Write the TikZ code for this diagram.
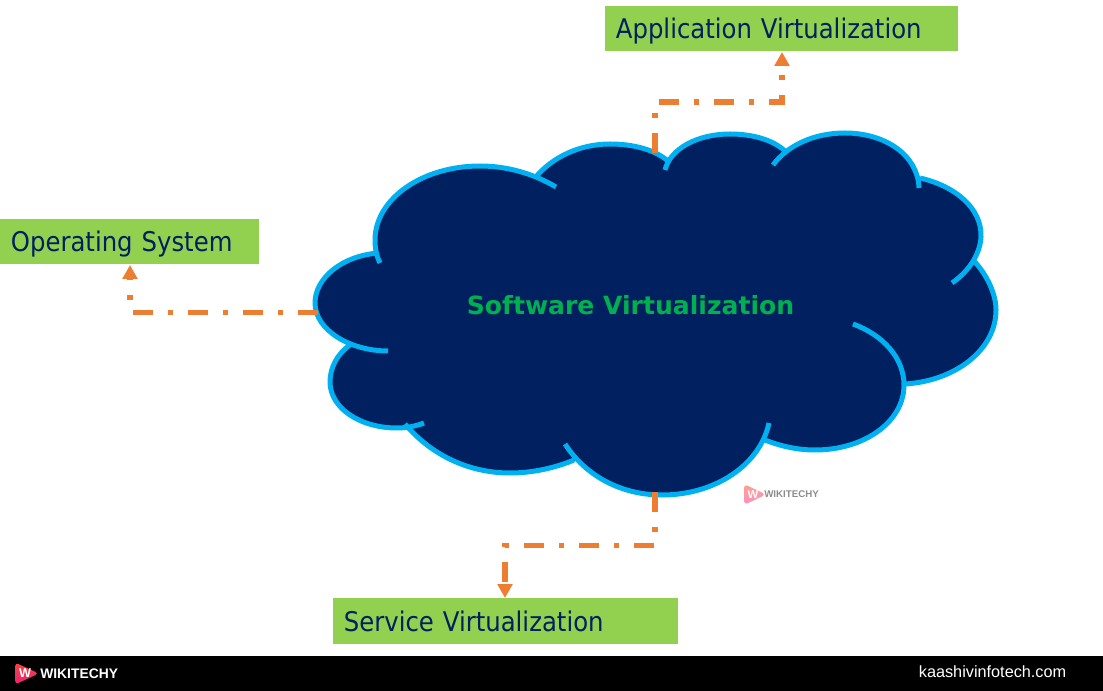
\documentclass[tikz,border=0pt]{standalone}
\usepackage{fontspec}
\usetikzlibrary{arrows.meta}
\setmainfont{DejaVu Sans}
\newfontfamily\labfont{DejaVu Sans Condensed}
\newfontfamily\logofont{Liberation Sans}
\definecolor{navy}{HTML}{002060}
\definecolor{leaf}{HTML}{92D050}
\definecolor{sky}{HTML}{00B0F0}
\definecolor{tang}{HTML}{ED7D31}
\definecolor{title}{HTML}{00B050}
\definecolor{logotop}{HTML}{F4463C}
\definecolor{logolow}{HTML}{EE1F78}
\definecolor{marktop}{HTML}{FFA08F}
\definecolor{marklow}{HTML}{FF8FBE}
\tikzset{
  labelbox/.style={fill=leaf,anchor=north west,inner xsep=8pt,inner ysep=0pt,align=left,text=navy,text height=18.5pt,text depth=3.5pt,font=\labfont\fontsize{20.3}{24}\selectfont},
  rim/.style={draw=sky,line width=3.75pt,line cap=butt,line join=round},
  lobe/.style={fill=navy,draw=navy,line width=1pt},
  flow/.style={draw=tang,line width=3.9pt,dash pattern=on 15pt off 11.25pt on 3.75pt off 11.25pt,-{Triangle[width=11pt,length=10.5pt]}}
}
\newcommand{\logomark}[6]{% x y w h top low
  \shade[top color=#5,bottom color=#6,rounded corners=3pt] (#1,#2) -- (#1+#3,#2+0.5*#4) -- (#1,#2+#4) -- cycle;
}
\begin{document}
\begin{tikzpicture}[x=0.75pt,y=-0.75pt]
\useasboundingbox (0,0) rectangle (1103,691);
% footer
\fill[black] (0,656) rectangle (1103,691);
% cloud lobes
\def\LA{(380,263) .. controls (376,255) and (375,247) .. (375,240) .. controls (375,199) and (422,166) .. (480,166) .. controls (508,166) and (534,174) .. (556,187)}
\def\LB{(535,178) .. controls (552,157) and (580,144) .. (610,144) .. controls (634,144) and (655,150) .. (668,161)}
\def\LC{(665,170) .. controls (670,149) and (697,134) .. (730,134) .. controls (753,134) and (773,140) .. (785,151)}
\def\LD{(773,165) .. controls (787,146) and (813,133) .. (845,133) .. controls (885,133) and (918,155) .. (919,188)}
\def\LE{(920,178) .. controls (955,186) and (982,208) .. (981,237) .. controls (980,255) and (968,272) .. (952,283)}
\def\LF{(974,261) .. controls (988,276) and (996,295) .. (996,310) .. controls (996,350) and (955,381) .. (905,384)}
\def\LG{(853,324) .. controls (883,335) and (904,358) .. (904,385) .. controls (904,422) and (864,450) .. (815,450) .. controls (797,450) and (780,446) .. (765,440)}
\def\LH{(769,423) .. controls (760,465) and (715,495) .. (662,495) .. controls (620,495) and (585,475) .. (565,444)}
\def\LI{(574,460) .. controls (555,468) and (532,473) .. (510,473) .. controls (470,473) and (432,456) .. (405,424)}
\def\LJ{(350,345) .. controls (337,354) and (330,368) .. (330,382) .. controls (330,408) and (360,428) .. (397,428) .. controls (407,428) and (416,426) .. (424,423)}
\def\LK{(388,351) .. controls (350,351) and (315,330) .. (315,303) .. controls (315,278) and (342,256) .. (378,253)}
\foreach \L in {\LA,\LB,\LC,\LD,\LE,\LF,\LG,\LH,\LI,\LJ,\LK}{
  \path[lobe] \L -- cycle;
}
\path[lobe] (378,253) -- (535,178) -- (668,161) -- (785,152) -- (919,178) -- (974,261) -- (905,384) -- (765,440) -- (574,460) -- (407,427) -- (350,345) -- cycle;
\foreach \L in {\LA,\LB,\LC,\LD,\LE,\LF,\LG,\LH,\LI,\LJ,\LK}{
  \path[rim] \L;
}
\node[text=title,font=\bfseries\fontsize{18.8}{24}\selectfont,inner sep=0pt] (cloud) at (630.5,305) {Software Virtualization};
\coordinate (cloudTop) at (655,153);
\coordinate (cloudLeft) at (318,312.5);
\coordinate (cloudBottom) at (655,492);
% label boxes
\node[labelbox,minimum height=33.75pt,text width=248.75pt] (app) at (605,6) {Application Virtualization};
\node[labelbox,minimum height=33.75pt,text width=178.25pt] (os) at (0,219) {Operating System};
\node[labelbox,minimum height=34.5pt,text width=242.75pt] (svc) at (333,598) {Service Virtualization};
% connectors
\coordinate (appTip) at (782,52);
\coordinate (osTip) at (130,265);
\coordinate (svcTip) at (505,598);
\draw[flow] (cloudTop) |- (720,102) -| (appTip);
\draw[flow] (cloudLeft) -| (osTip);
\draw[flow] (cloudBottom) |- (580,545.5) -| (svcTip);
% footer texts
\logomark{15}{662.5}{24}{22}{logotop}{logolow}
\node[text=white,font=\logofont\bfseries\fontsize{9.5}{10}\selectfont,inner sep=0pt] (lw) at (25,673.5) {W};
\node[text=white,anchor=west,font=\logofont\bfseries\fontsize{10.4}{12}\selectfont,inner sep=0pt] (lt) at (40,674) {WIKITECHY};
\node[text=white,anchor=east,font=\logofont\fontsize{12.2}{14}\selectfont,inner sep=0pt] (site) at (1066.5,672) {kaashivinfotech.com};
% watermark
\logomark{744}{484}{22}{21}{marktop}{marklow}
\node[text=white,font=\logofont\bfseries\fontsize{8.5}{9}\selectfont,inner sep=0pt] (wmw) at (753,494.5) {W};
\node[text=black!45,anchor=west,font=\logofont\bfseries\fontsize{7.3}{9}\selectfont,inner sep=0pt] (wmt) at (764,494.5) {WIKITECHY};
\end{tikzpicture}
\end{document}
